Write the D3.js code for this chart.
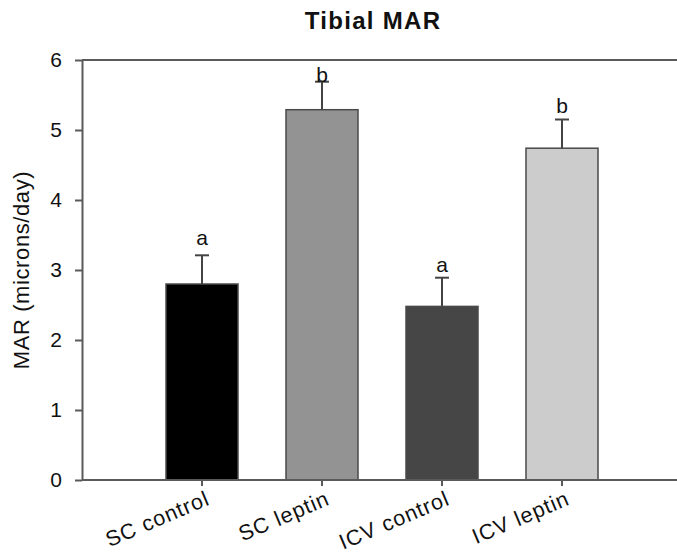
<!DOCTYPE html>
<html>
<head>
<meta charset="utf-8">
<script src="https://cdn.jsdelivr.net/npm/d3@7/dist/d3.min.js"></script>
<style>
  html, body { margin: 0; padding: 0; background: #fff; }
  svg { display: block; font-family: "Liberation Sans", Arial, Helvetica, sans-serif; }
</style>
</head>
<body>
<svg id="chart" width="677" height="559"></svg>
<script>
// Tibial mineral apposition rate by treatment group
const groups = ["SC control", "SC leptin", "ICV control", "ICV leptin"];
const meanMAR = [2.80, 5.29, 2.48, 4.74];
const seMAR = [0.41, 0.40, 0.41, 0.41];
const groupLetters = ["a", "b", "a", "b"];
const letterLevels = [3.36, 5.69, 2.97, 5.24];
const barColors = ["#000000", "#939393", "#464646", "#cccccc"];
const yTicks = [0, 1, 2, 3, 4, 5, 6];

const svg = d3.select("#chart");
const W = 677;
const plotLeft = 82, plotTop = 60, plotBottom = 480;

const x = d3.scaleBand()
  .domain(groups)
  .range([plotLeft, plotLeft + 600])
  .paddingInner(0.4)
  .paddingOuter(0.7);

const y = d3.scaleLinear().domain([0, 6]).range([plotBottom, plotTop]);

const axisColor = "#5a5a5a";
const textColor = "#111";

// Title
svg.append("text")
  .attr("x", 373).attr("y", 29)
  .attr("text-anchor", "middle")
  .attr("font-weight", "bold")
  .attr("font-size", 24)
  .attr("letter-spacing", 1.3)
  .attr("fill", textColor)
  .text("Tibial MAR");

// Bars
svg.append("g").selectAll("rect")
  .data(groups)
  .join("rect")
  .attr("x", d => x(d))
  .attr("y", (d, i) => y(meanMAR[i]))
  .attr("width", x.bandwidth())
  .attr("height", (d, i) => y(0) - y(meanMAR[i]))
  .attr("fill", (d, i) => barColors[i])
  .attr("stroke", "#4a4a4a")
  .attr("stroke-width", 1.5);

// Upper error bars
const eb = svg.append("g").attr("stroke", "#444").attr("stroke-width", 2);
groups.forEach((g, i) => {
  const cx = x(g) + x.bandwidth() / 2;
  eb.append("line")
    .attr("x1", cx).attr("x2", cx)
    .attr("y1", y(meanMAR[i])).attr("y2", y(meanMAR[i] + seMAR[i]));
  eb.append("line")
    .attr("x1", cx - 7).attr("x2", cx + 7)
    .attr("y1", y(meanMAR[i] + seMAR[i])).attr("y2", y(meanMAR[i] + seMAR[i]));
});

// Significance letters
svg.append("g").selectAll("text")
  .data(groups)
  .join("text")
  .attr("x", d => x(d) + x.bandwidth() / 2)
  .attr("y", (d, i) => y(letterLevels[i]))
  .attr("text-anchor", "middle")
  .attr("font-size", 21)
  .attr("fill", textColor)
  .text((d, i) => groupLetters[i]);

// Frame line along the top, running to the right edge
svg.append("line")
  .attr("x1", plotLeft).attr("x2", W)
  .attr("y1", plotTop).attr("y2", plotTop)
  .attr("stroke", axisColor).attr("stroke-width", 2);

// Y axis
const yAxis = svg.append("g")
  .attr("transform", `translate(${plotLeft},0)`)
  .call(d3.axisLeft(y).tickValues(yTicks).tickFormat(d3.format("d")).tickSize(7).tickSizeOuter(0).tickPadding(13));
yAxis.select(".domain").attr("stroke", axisColor).attr("stroke-width", 2);
yAxis.selectAll(".tick line").attr("stroke", axisColor).attr("stroke-width", 2);
yAxis.selectAll(".tick text")
  .attr("font-size", 21)
  .attr("fill", textColor)
  .attr("font-family", "Liberation Sans, Arial, sans-serif");

// X axis
const xAxis = svg.append("g")
  .attr("transform", `translate(0,${plotBottom})`)
  .call(d3.axisBottom(x).tickSize(6).tickSizeOuter(0));
xAxis.select(".domain").remove();
xAxis.append("line")
  .attr("x1", plotLeft).attr("x2", W)
  .attr("stroke", axisColor).attr("stroke-width", 2);
xAxis.selectAll(".tick line").attr("stroke", axisColor).attr("stroke-width", 2);
xAxis.selectAll(".tick text")
  .attr("font-size", 21.5)
  .attr("letter-spacing", 1)
  .attr("fill", textColor)
  .attr("font-family", "Liberation Sans, Arial, sans-serif")
  .attr("text-anchor", "end")
  .attr("transform", "translate(9,24) rotate(-23)")
  .attr("dy", 0)
  .attr("y", 0);

// Y axis title
svg.append("text")
  .attr("transform", `translate(29,270) rotate(-90)`)
  .attr("text-anchor", "middle")
  .attr("font-size", 22)
  .attr("letter-spacing", 0.6)
  .attr("fill", textColor)
  .text("MAR (microns/day)");
</script>
</body>
</html>
